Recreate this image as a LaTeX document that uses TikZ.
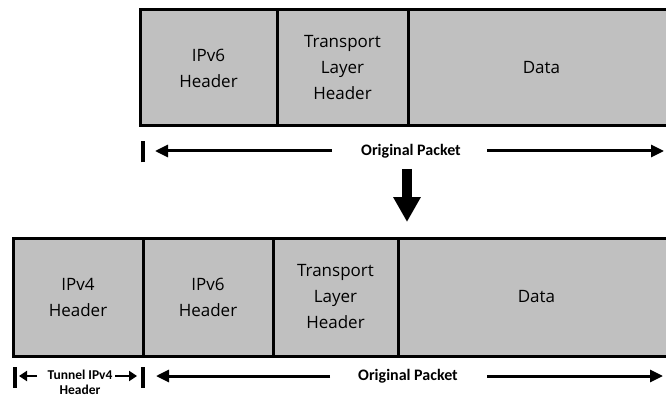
\documentclass[tikz,border=0pt]{standalone}
\usepackage{fontspec}
\setmainfont{Open Sans}
\newfontfamily\labelfont{Carlito}
\usetikzlibrary{arrows.meta}
\definecolor{cellgray}{RGB}{192,192,192}
\begin{document}
\begin{tikzpicture}[x=1pt,y=-1pt,
  cell/.style={draw=black, line width=3pt, fill=cellgray, anchor=north west,
    inner sep=0pt, outer sep=0pt, align=center, font=\fontsize{17}{26}\selectfont},
  dimtext/.style={font=\labelfont\bfseries\fontsize{16}{16}\selectfont, inner sep=0pt},
  smalltext/.style={font=\labelfont\bfseries\fontsize{13.5}{15}\selectfont, inner sep=0pt, align=center},
  dimarrow/.style={line width=3pt, -{Triangle[length=13pt,width=12pt]}},
  smallarrow/.style={line width=2.5pt, -{Triangle[length=8pt,width=10pt]}},
  endbar/.style={line width=3.5pt},
  bigarrow/.style={line width=10pt, -{Triangle[length=25pt,width=26pt]}},
]
\clip (0,0) rectangle (666,398);

% original packet
\node[cell, minimum width=137pt, minimum height=116pt] (t6) at (140,10) {IPv6\\Header};
\node[cell, minimum width=131pt, minimum height=116pt] (ttr) at (277,10) {Transport\\Layer\\Header};
\node[cell, minimum width=267pt, minimum height=116pt] (tdata) at (408,10) {Data};

% extent of the original packet
\node[dimtext] (op1) at (411,151) {Original Packet};
\coordinate (bar1) at (143,152);
\coordinate (l1) at (332,151);
\coordinate (r1s) at (487,151);
\coordinate (r1) at (664,151);
\draw[endbar] ([yshift=-10.5pt]bar1) -- ([yshift=10.5pt]bar1);
\draw[dimarrow] (l1) -- ([xshift=12pt]bar1 |- l1);
\draw[dimarrow] (r1s) -- (r1);

% encapsulation step
\coordinate (dtop) at (407,169);
\coordinate (dtip) at (407,222);
\draw[bigarrow] (dtop) -- (dtip);

% tunnelled packet
\node[cell, minimum width=130pt, minimum height=118pt] (b4) at (13,238) {IPv4\\Header};
\node[cell, minimum width=130pt, minimum height=118pt] (b6) at (143,238) {IPv6\\Header};
\node[cell, minimum width=125pt, minimum height=118pt] (btr) at (273,238) {Transport\\Layer\\Header};
\node[cell, minimum width=277pt, minimum height=118pt] (bdata) at (398,238) {Data};

% extents of the tunnel header and the original packet
\coordinate (bar2L) at (15,377);
\coordinate (bar2R) at (143,377);
\draw[endbar] ([yshift=-10.5pt]bar2L) -- ([yshift=10.5pt]bar2L);
\draw[endbar] ([yshift=-10.5pt]bar2R) -- ([yshift=10.5pt]bar2R);
\node[smalltext, anchor=north] (tun) at (80,370) {Tunnel IPv4\\Header};
\coordinate (sl) at (37,376);
\coordinate (sr) at (115,376);
\draw[smallarrow] (sl) -- ([xshift=4pt]bar2L |- sl);
\draw[smallarrow] (sr) -- ([xshift=-6pt]bar2R |- sr);

\node[dimtext] (op2) at (408,376) {Original Packet};
\coordinate (l2) at (330,376);
\coordinate (r2s) at (487,376);
\coordinate (r2) at (663,376);
\draw[dimarrow] (l2) -- ([xshift=13pt]bar2R |- l2);
\draw[dimarrow] (r2s) -- (r2);
\end{tikzpicture}
\end{document}
